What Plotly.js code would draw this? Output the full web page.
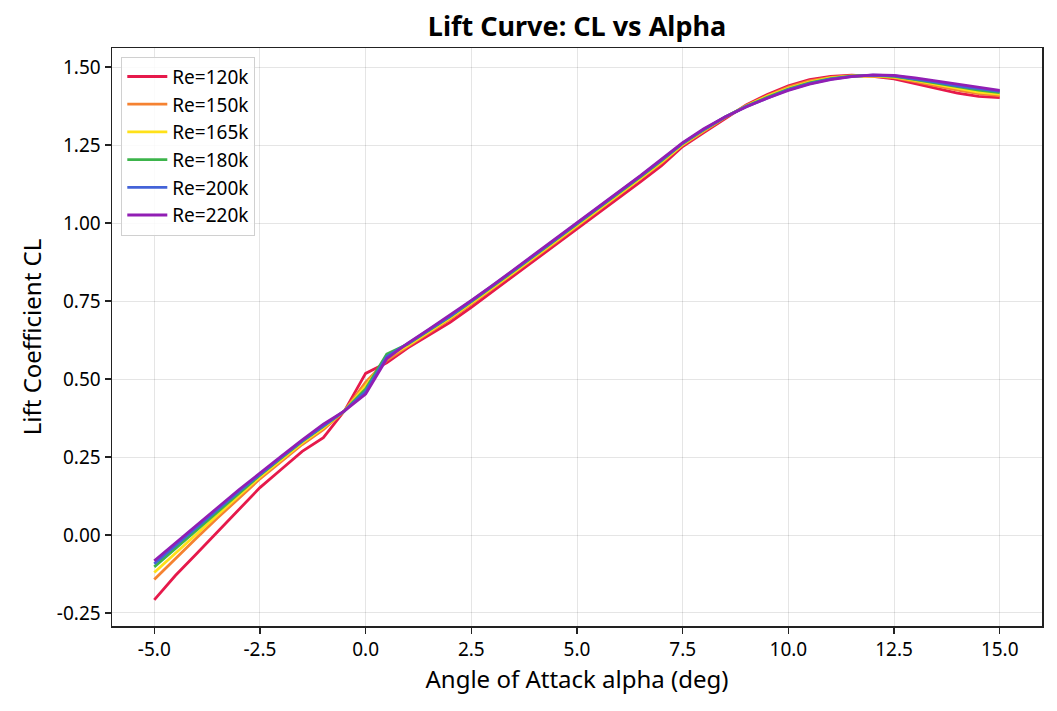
<!DOCTYPE html>
<html>
<head>
<meta charset="utf-8">
<script src="https://cdn.plot.ly/plotly-3.0.1.min.js"></script>
<style>html,body{margin:0;padding:0;background:#fff;}#chart{width:1057px;height:711px;}</style>
</head>
<body>
<div id="chart"></div>
<script>
const alpha = [-5,-4.5,-4,-3.5,-3,-2.5,-2,-1.5,-1,-0.5,0,0.5,1,1.5,2,2.5,3,3.5,4,4.5,5,5.5,6,6.5,7,7.5,8,8.5,9,9.5,10,10.5,11,11.5,12,12.5,13,13.5,14,14.5,15];

const cl120k = [-0.208,-0.130,-0.060,0.010,0.082,0.152,0.210,0.268,0.312,0.398,0.518,0.552,0.600,0.640,0.682,0.730,0.780,0.830,0.880,0.930,0.982,1.032,1.082,1.132,1.184,1.245,1.290,1.335,1.378,1.412,1.440,1.460,1.470,1.474,1.470,1.462,1.446,1.430,1.416,1.406,1.402];
const cl150k = [-0.143,-0.075,-0.010,0.055,0.118,0.180,0.235,0.290,0.338,0.398,0.490,0.560,0.605,0.648,0.692,0.740,0.789,0.839,0.889,0.939,0.990,1.040,1.090,1.141,1.193,1.250,1.295,1.338,1.376,1.408,1.436,1.456,1.467,1.472,1.471,1.466,1.453,1.439,1.426,1.415,1.408];
const cl165k = [-0.120,-0.058,0.003,0.065,0.126,0.186,0.240,0.295,0.343,0.398,0.478,0.568,0.608,0.652,0.696,0.744,0.792,0.842,0.892,0.942,0.993,1.043,1.093,1.144,1.196,1.252,1.297,1.339,1.375,1.406,1.432,1.452,1.465,1.471,1.472,1.468,1.457,1.444,1.431,1.420,1.413];
const cl180k = [-0.102,-0.043,0.016,0.075,0.134,0.192,0.246,0.300,0.348,0.398,0.468,0.580,0.612,0.656,0.700,0.748,0.796,0.846,0.896,0.946,0.996,1.046,1.096,1.148,1.200,1.255,1.299,1.339,1.374,1.403,1.429,1.449,1.463,1.471,1.473,1.470,1.460,1.448,1.436,1.426,1.418];
const cl200k = [-0.092,-0.033,0.023,0.082,0.140,0.196,0.249,0.302,0.350,0.398,0.460,0.572,0.614,0.658,0.702,0.750,0.798,0.848,0.898,0.948,0.998,1.048,1.098,1.150,1.202,1.256,1.300,1.340,1.373,1.401,1.427,1.447,1.461,1.470,1.474,1.472,1.463,1.452,1.440,1.430,1.422];
const cl220k = [-0.083,-0.025,0.030,0.088,0.145,0.200,0.252,0.305,0.355,0.398,0.452,0.565,0.615,0.660,0.705,0.752,0.800,0.850,0.900,0.950,1.000,1.050,1.100,1.152,1.205,1.258,1.302,1.340,1.372,1.400,1.425,1.445,1.460,1.469,1.475,1.473,1.465,1.455,1.444,1.434,1.425];

const seriesNames = ["Re=120k","Re=150k","Re=165k","Re=180k","Re=200k","Re=220k"];
const seriesValues = [cl120k, cl150k, cl165k, cl180k, cl200k, cl220k];
const colors = ["#e6194b","#f58231","#ffe119","#3cb44b","#4363d8","#911eb4"];

const xTickVals = [-5,-2.5,0,2.5,5,7.5,10,12.5,15];
const xTickText = ["-5.0","-2.5","0.0","2.5","5.0","7.5","10.0","12.5","15.0"];
const yTickVals = [-0.25,0,0.25,0.5,0.75,1.0,1.25,1.5];
const yTickText = ["-0.25","0.00","0.25","0.50","0.75","1.00","1.25","1.50"];

const FONT = "'Noto Sans', 'Open Sans', sans-serif";

const traces = seriesValues.map((v, i) => ({
  x: alpha, y: v, type: 'scatter', mode: 'lines', name: seriesNames[i],
  line: {color: colors[i], width: 2.8}
}));

const layout = {
  width: 1057, height: 711,
  margin: {l: 112, r: 15, t: 48, b: 85},
  paper_bgcolor: '#fff', plot_bgcolor: '#fff',
  font: {family: FONT, color: '#000', size: 19},
  title: {text: '<b>Lift Curve: CL vs Alpha</b>', x: 0.5, xref: 'paper', y: 1 - 27/711, yref: 'container', yanchor: 'middle', font: {family: FONT, size: 27, color: '#000'}},
  xaxis: {
    range: [-6.0, 16.0], tickvals: xTickVals, ticktext: xTickText,
    showgrid: true, gridcolor: 'rgba(0,0,0,0.1)', gridwidth: 1, zeroline: false,
    showline: true, mirror: true, linecolor: '#222', linewidth: 1.5,
    ticks: 'outside', ticklen: 6, tickwidth: 1.3, tickcolor: '#222',
    tickfont: {size: 19},
    title: {text: 'Angle of Attack alpha (deg)', font: {size: 24}, standoff: 8}
  },
  yaxis: {
    range: [-0.2917, 1.561], tickvals: yTickVals, ticktext: yTickText,
    showgrid: true, gridcolor: 'rgba(0,0,0,0.1)', gridwidth: 1, zeroline: false,
    showline: true, mirror: true, linecolor: '#222', linewidth: 1.5,
    ticks: 'outside', ticklen: 6, tickwidth: 1.3, tickcolor: '#222',
    tickfont: {size: 19},
    title: {text: 'Lift Coefficient CL', font: {size: 24}, standoff: 8}
  },
  legend: {
    x: 0.01, y: 0.985, xanchor: 'left', yanchor: 'top',
    bgcolor: 'rgba(255,255,255,0.85)', bordercolor: '#d0d0d0', borderwidth: 1,
    font: {size: 19}, itemwidth: 40, tracegroupgap: 0
  },
  showlegend: true
};

Plotly.newPlot('chart', traces, layout, {staticPlot: true, displayModeBar: false});
</script>
</body>
</html>
